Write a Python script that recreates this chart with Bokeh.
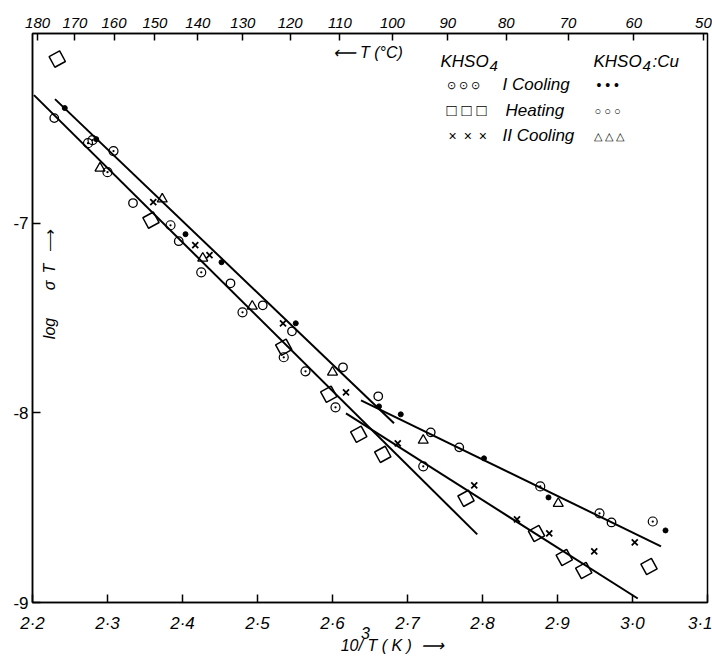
from bokeh.plotting import figure
from bokeh.models import Range1d, LinearAxis, FixedTicker, CustomJSTickFormatter, Label
from bokeh.embed import file_html
from bokeh.resources import INLINE
import math

# ---------------- data ----------------
# KHSO4, I Cooling (circle with dot)
cool1_x = [2.274, 2.280, 2.308, 2.300, 2.384, 2.425, 2.480, 2.535, 2.564, 2.604, 2.721, 2.877, 2.956, 3.027]
cool1_y = [-6.578, -6.562, -6.620, -6.731, -7.011, -7.259, -7.470, -7.707, -7.781, -7.971, -8.282, -8.388, -8.530, -8.573]
# KHSO4, Heating (squares)
heat_x = [2.233, 2.358, 2.535, 2.595, 2.635, 2.667, 2.778, 2.872, 2.909, 2.935, 3.022]
heat_y = [-6.135, -6.984, -7.654, -7.902, -8.113, -8.219, -8.451, -8.636, -8.763, -8.831, -8.810]
# KHSO4, II Cooling (crosses)
cool2_x = [2.361, 2.417, 2.436, 2.534, 2.618, 2.687, 2.789, 2.846, 2.889, 2.949, 3.003]
cool2_y = [-6.889, -7.116, -7.169, -7.528, -7.892, -8.161, -8.383, -8.562, -8.636, -8.731, -8.683]
# KHSO4:Cu, I Cooling (filled dots)
cu_cool1_x = [2.243, 2.285, 2.404, 2.452, 2.551, 2.662, 2.691, 2.802, 2.888, 3.044]
cu_cool1_y = [-6.393, -6.557, -7.058, -7.206, -7.528, -7.966, -8.008, -8.240, -8.446, -8.620]
# KHSO4:Cu, Heating (open circles)
cu_heat_x = [2.229, 2.334, 2.395, 2.464, 2.507, 2.546, 2.614, 2.661, 2.731, 2.769, 2.972]
cu_heat_y = [-6.446, -6.894, -7.095, -7.317, -7.433, -7.570, -7.760, -7.913, -8.103, -8.182, -8.578]
# KHSO4:Cu, II Cooling (triangles)
cu_cool2_x = [2.290, 2.373, 2.427, 2.493, 2.600, 2.721, 2.901]
cu_cool2_y = [-6.710, -6.873, -7.185, -7.438, -7.786, -8.145, -8.478]

# fitted straight lines (start / end points)
fit_x0 = [2.230, 2.202, 2.638, 2.618]
fit_y0 = [-6.346, -6.325, -7.934, -8.003]
fit_x1 = [2.682, 2.793, 3.038, 3.007]
fit_y1 = [-8.055, -8.641, -8.704, -8.979]

# tick labels
x_ticks = [2.2, 2.3, 2.4, 2.5, 2.6, 2.7, 2.8, 2.9, 3.0, 3.1]
y_ticks = [-9, -8, -7]
celsius_ticks = [180, 170, 160, 150, 140, 130, 120, 110, 100, 90, 80, 70, 60, 50]

# ---------------- figure ----------------
FONT = "Liberation Sans"
W, H = 712, 665
ML, MR, MT, MB = 32, 5, 33, 63
NB = "\u00a0"

p = figure(width=W, height=H, x_range=Range1d(2.2, 3.1), y_range=Range1d(-9, -6),
           output_backend="svg", toolbar_location=None,
           min_border_left=ML, min_border_right=MR, min_border_top=MT, min_border_bottom=MB)
p.xgrid.visible = False
p.ygrid.visible = False
p.outline_line_color = "black"
p.outline_line_width = 1.5
p.outline_line_alpha = 1.0
p.background_fill_color = "white"
p.border_fill_color = "white"

FW = W - ML - MR
FH = H - MT - MB


def ax(px):
    return 2.2 + (px - ML) / FW * 0.9


def ay(py):
    return -6 - (py - MT) / FH * 3.0


def style_axis(a):
    a.axis_line_width = 1.5
    a.axis_line_color = "black"
    a.major_tick_line_width = 1.5
    a.major_tick_line_color = "black"
    a.major_tick_in = 8
    a.major_tick_out = 0
    a.minor_tick_line_color = None
    a.major_label_text_font = FONT
    a.major_label_text_color = "black"


xa = p.below[0]
style_axis(xa)
xa.ticker = FixedTicker(ticks=x_ticks)
xa.formatter = CustomJSTickFormatter(code="return tick.toFixed(1).replace('.', '\u00b7');")
xa.major_label_text_font_style = "italic"
xa.major_label_text_font_size = "17px"
xa.major_label_standoff = 11
# x caption: superscript 3 above "10", then "10/ T ( K) -->"
xa.axis_label = "3" + NB * 2 + "\n" + NB * 10 + "10/ T ( K )" + NB * 2 + "\u27f6"
xa.axis_label_text_font = FONT
xa.axis_label_text_font_style = "italic"
xa.axis_label_text_font_size = "16px"
xa.axis_label_text_line_height = 0.75
xa.axis_label_text_color = "black"
xa.axis_label_standoff = -11

ya = p.left[0]
style_axis(ya)
ya.ticker = FixedTicker(ticks=y_ticks)
ya.formatter = CustomJSTickFormatter(code="return tick.toFixed(0);")
ya.major_label_text_font_size = "17px"
ya.major_label_standoff = 4

top = LinearAxis(ticker=FixedTicker(ticks=[1000.0 / (c + 273.15) for c in celsius_ticks]),
                 formatter=CustomJSTickFormatter(code="return Math.round(1000/tick - 273.15).toString();"))
style_axis(top)
top.major_tick_in = 7
top.major_label_text_font_style = "italic"
top.major_label_text_font_size = "15px"
top.major_label_standoff = 6
p.add_layout(top, "above")

# ---------------- marks ----------------
p.segment(x0=fit_x0, y0=fit_y0, x1=fit_x1, y1=fit_y1, line_color="black", line_width=2)

p.scatter(cool1_x, cool1_y, marker="circle_dot", size=9, line_color="black",
          fill_color=None, line_width=1.2)
p.scatter(heat_x, heat_y, marker="square", size=12, angle=0.5, line_color="black",
          fill_color=None, line_width=1.5)
p.scatter(cool2_x, cool2_y, marker="x", size=8.5, line_color="black", line_width=1.8)
p.scatter(cu_cool1_x, cu_cool1_y, marker="circle", size=5, line_color="black",
          fill_color="black")
p.scatter(cu_heat_x, cu_heat_y, marker="circle", size=8.5, line_color="black",
          fill_color=None, line_width=1.3)
p.scatter(cu_cool2_x, cu_cool2_y, marker="triangle", size=10, line_color="black",
          fill_color=None, line_width=1.3)


# ---------------- texts inside the frame ----------------
def lab(text, px, py, size=17, italic=True, align="left", angle=0.0):
    p.add_layout(Label(x=ax(px), y=ay(py), text=text, text_font=FONT,
                       text_font_size=f"{size}px",
                       text_font_style="italic" if italic else "normal",
                       text_align=align, text_baseline="middle", angle=angle,
                       text_color="black"))


# top-axis caption
lab("\u27f5 T (\u00b0C)", 332, 52, size=16)

# legend headings
lab("KHSO", 440, 61)
lab("4", 489, 65, size=15)
lab("KHSO", 593, 61)
lab("4", 642, 65, size=15)
lab(":Cu", 652, 61)

# legend rows
lab("\u2299 \u2299 \u2299", 446, 84, size=11, italic=False)
lab("I Cooling", 502, 84)
lab("\u2022 \u2022 \u2022", 596, 84, size=14, italic=False)
lab("\u25a1 \u25a1 \u25a1", 446, 110, size=17, italic=False)
lab("Heating", 505, 110)
lab("\u25cb \u25cb \u25cb", 594, 110, size=11, italic=False)
lab("\u00d7\u2002\u00d7\u2002\u00d7", 448, 135, size=14, italic=False)
lab("II Cooling", 502, 135)
lab("\u25b3 \u25b3 \u25b3", 593, 135, size=11, italic=False)

# y-axis caption (inside frame, rotated)
half_pi = math.pi / 2
lab("log", 49, 328, size=16, align="center", angle=half_pi)
lab("\u03c3", 49, 285, size=16, align="center", angle=half_pi)
lab("T", 49, 268, size=16, align="center", angle=half_pi)
lab("\u27f6", 49, 240, size=16, italic=False, align="center", angle=half_pi)

with open("out.html", "w", encoding="utf-8") as f:
    f.write(file_html(p, INLINE))
